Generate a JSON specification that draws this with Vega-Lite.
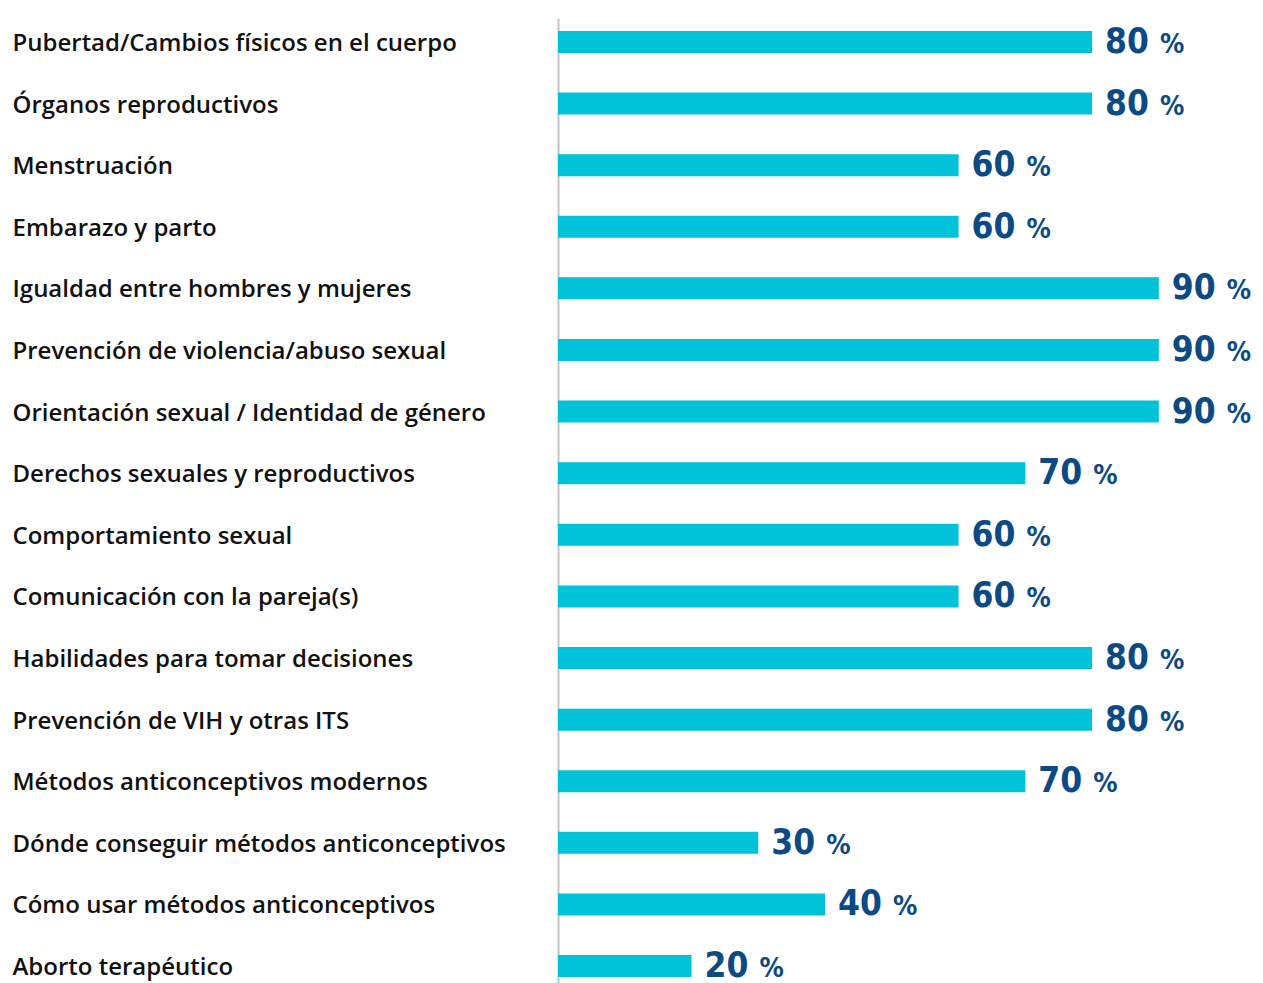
{
  "$schema": "https://vega.github.io/schema/vega-lite/v6.json",
  "width": 701,
  "height": 972,
  "autosize": {"type": "none"},
  "padding": {"left": 558, "top": 18, "right": 4, "bottom": 0},
  "background": "white",
  "config": {"view": {"stroke": null}},
  "data": {
    "values": [
      {"tema": "Pubertad/Cambios físicos en el cuerpo", "pct": 80},
      {"tema": "Órganos reproductivos", "pct": 80},
      {"tema": "Menstruación", "pct": 60},
      {"tema": "Embarazo y parto", "pct": 60},
      {"tema": "Igualdad entre hombres y mujeres", "pct": 90},
      {"tema": "Prevención de violencia/abuso sexual", "pct": 90},
      {"tema": "Orientación sexual / Identidad de género", "pct": 90},
      {"tema": "Derechos sexuales y reproductivos", "pct": 70},
      {"tema": "Comportamiento sexual", "pct": 60},
      {"tema": "Comunicación con la pareja(s)", "pct": 60},
      {"tema": "Habilidades para tomar decisiones", "pct": 80},
      {"tema": "Prevención de VIH y otras ITS", "pct": 80},
      {"tema": "Métodos anticonceptivos modernos", "pct": 70},
      {"tema": "Dónde conseguir métodos anticonceptivos", "pct": 30},
      {"tema": "Cómo usar métodos anticonceptivos", "pct": 40},
      {"tema": "Aborto terapéutico", "pct": 20}
    ]
  },
  "encoding": {
    "y": {
      "field": "tema",
      "type": "nominal",
      "sort": null,
      "scale": {"paddingInner": 0.643, "paddingOuter": 0.21},
      "axis": {
        "title": null,
        "ticks": false,
        "domainColor": "#c4c4c4",
        "domainWidth": 2,
        "labelAlign": "left",
        "labelPadding": 546,
        "labelLimit": 600,
        "labelOffset": 2,
        "labelFont": "Open Sans",
        "labelFontSize": 24,
        "labelColor": "#111111",
        "labelFontWeight": 600
      }
    },
    "x": {
      "field": "pct",
      "type": "quantitative",
      "scale": {"domain": [0, 105]},
      "axis": null
    }
  },
  "layer": [
    {"mark": {"type": "bar", "color": "#00c3da"}},
    {
      "mark": {"type": "text", "align": "left", "baseline": "alphabetic", "dx": 13, "dy": 11, "font": "DejaVu Sans Condensed", "fontWeight": "bold", "fontSize": 35, "color": "#0b4a82"},
      "encoding": {"text": {"field": "pct"}}
    },
    {
      "mark": {"type": "text", "align": "left", "baseline": "alphabetic", "dx": 68, "dy": 11, "font": "DejaVu Sans Condensed", "fontWeight": "bold", "fontSize": 27, "color": "#0b4a82", "text": "%"}
    }
  ]
}
